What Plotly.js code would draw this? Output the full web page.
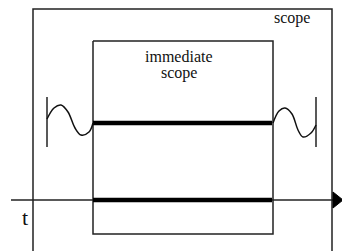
<!DOCTYPE html>
<html><head><meta charset="utf-8">
<script src="https://cdn.plot.ly/plotly-3.0.1.min.js"></script>
<style>
html,body{margin:0;padding:0;background:#fff}
#c{width:342px;height:251px}
#c svg text{font-family:"Liberation Serif","Times New Roman",serif !important;}
</style>
</head><body><div id="c"></div>
<script>
// Diagram geometry (pixel-like units, y downward)
const outerX = [33, 33, 332, 332];
const outerY = [252, 9, 9, 252];
const innerX = [93, 93, 273, 273, 93];
const innerY = [41, 234, 234, 41, 41];
const thickUpperX = [93, 272];
const thickUpperY = [123, 123];
const thickLowerX = [93, 272];
const thickLowerY = [200, 200];
const axisX = [11, 334];
const axisY = [200, 200];
const arrowX = [333, 343, 333, 333];
const arrowY = [192, 200, 208, 192];
const leftBarX = [47, 47];
const leftBarY = [97, 147];
const rightBarX = [316, 316];
const rightBarY = [97, 147];
const leftWaveX = [47, 54, 61, 68, 75, 81, 89, 93];
const leftWaveY = [119, 108, 105, 112, 128, 135, 132, 123];
const rightWaveX = [273, 279, 285, 292, 298, 303, 311, 316];
const rightWaveY = [123, 111, 108, 114, 130, 137, 133, 125];
const labels = ["scope", "immediate", "scope", "t"];
const labelX = [292, 179, 179, 25];
const labelY = [18, 56, 73, 217];
const fontSizes = [16, 16, 16, 22];

const thin = {color: '#222', width: 1.5};
const traces = [
  {x: outerX, y: outerY, mode: 'lines', line: thin},
  {x: innerX, y: innerY, mode: 'lines', line: thin},
  {x: axisX, y: axisY, mode: 'lines', line: thin},
  {x: arrowX, y: arrowY, mode: 'lines', fill: 'toself', fillcolor: '#000', line: {color: '#000', width: 1}},
  {x: thickUpperX, y: thickUpperY, mode: 'lines', line: {color: '#000', width: 4.5}},
  {x: thickLowerX, y: thickLowerY, mode: 'lines', line: {color: '#000', width: 4.5}},
  {x: leftBarX, y: leftBarY, mode: 'lines', line: thin},
  {x: rightBarX, y: rightBarY, mode: 'lines', line: thin},
  {x: leftWaveX, y: leftWaveY, mode: 'lines', line: {color: '#111', width: 1.5, shape: 'spline', smoothing: 1}},
  {x: rightWaveX, y: rightWaveY, mode: 'lines', line: {color: '#111', width: 1.5, shape: 'spline', smoothing: 1}}
];
const annotations = labels.map((t, i) => ({
  x: labelX[i], y: labelY[i], xref: 'x', yref: 'y', xanchor: 'center', yanchor: 'middle',
  text: t, showarrow: false,
  font: {family: 'Liberation Serif', size: fontSizes[i], color: '#111'}
}));
Plotly.newPlot('c', traces, {
  width: 342, height: 251, margin: {l: 0, r: 0, t: 0, b: 0},
  font: {family: 'Liberation Serif', size: 16, color: '#111'},
  paper_bgcolor: '#fff', plot_bgcolor: '#fff', showlegend: false,
  xaxis: {range: [0, 342], visible: false},
  yaxis: {range: [251, 0], visible: false},
  annotations: annotations
}, {staticPlot: true});
</script></body></html>
